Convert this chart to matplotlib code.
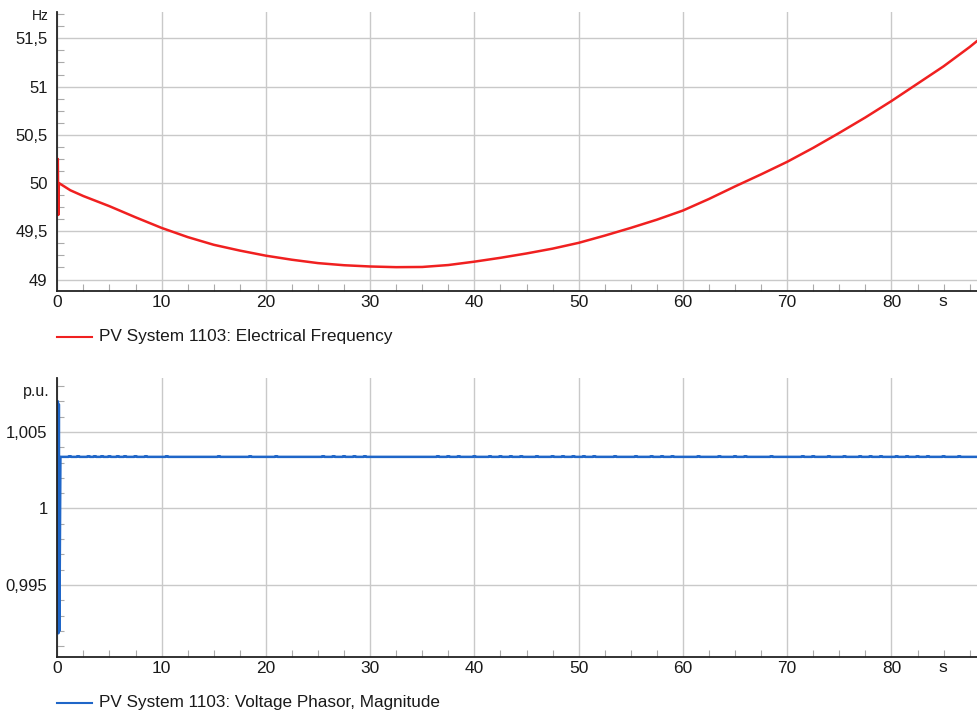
import matplotlib
matplotlib.use("Agg")
import matplotlib.pyplot as plt
from matplotlib.ticker import MultipleLocator, FuncFormatter

plt.rcParams['font.family'] = ['Liberation Sans', 'DejaVu Sans']

# ---- data ----
freq_t = [0.0, 0.05, 0.1, 0.15, 0.3, 1.25, 2.5, 5, 7.5, 10, 12.5, 15, 17.5, 20, 22.5, 25, 27.5,
          30, 32.5, 35, 37.5, 40, 42.5, 45, 47.5, 50, 52.5, 55, 57.5, 60, 62.5, 65, 67.5,
          70, 72.5, 75, 77.5, 80, 82.5, 85, 87.5, 88.3]
freq_v = [50.0, 50.25, 49.67, 50.0, 49.99, 49.925, 49.865, 49.76, 49.645, 49.535, 49.44, 49.36,
          49.30, 49.247, 49.205, 49.17, 49.148, 49.135, 49.128, 49.13, 49.15, 49.185,
          49.225, 49.27, 49.32, 49.38, 49.455, 49.535, 49.62, 49.715, 49.835, 49.965, 50.09,
          50.22, 50.365, 50.52, 50.68, 50.85, 51.03, 51.21, 51.41, 51.48]

volt_t = [0.0, 0.05, 0.1, 0.15, 0.2, 0.3]
volt_v = [1.0, 1.007, 0.99185, 1.0068, 0.992, 1.00337]
volt_steady = 1.00337
volt_blip = 1.00341
blip_times = [1.2, 2.0, 3.0, 3.6, 4.3, 5.0, 5.8, 6.5, 7.5, 8.5, 10.5, 15.5, 18.5, 21.0,
              25.5, 26.5, 27.5, 28.5, 29.5, 36.5, 37.5, 38.5, 40.0, 41.5, 42.5, 43.5,
              44.5, 46.0, 47.5, 48.5, 49.5, 50.5, 51.5, 53.5, 55.5, 57.0, 58.0, 59.0,
              61.5, 63.5, 65.0, 66.0, 68.5, 71.5, 72.5, 74.0, 75.5, 77.0, 78.0, 79.0,
              80.5, 81.5, 82.5, 83.5, 85.0, 86.5]
t_end = 88.3

freq_label = "PV System 1103: Electrical Frequency"
volt_label = "PV System 1103: Voltage Phasor, Magnitude"

# build voltage series from steady value with blips
vt = list(volt_t)
vv = list(volt_v)
for bt in blip_times:
    vt += [bt - 0.12, bt - 0.08, bt + 0.08, bt + 0.12]
    vv += [volt_steady, volt_blip, volt_blip, volt_steady]
vt.append(t_end)
vv.append(volt_steady)

W, H = 978, 715
fig = plt.figure(figsize=(W / 100, H / 100), dpi=100)

def px_axes(left, top, right, bottom):
    return fig.add_axes([left / W, 1 - bottom / H, (right - left) / W, (bottom - top) / H])

ax1 = px_axes(57.3, 11.7, 978, 290.7)
ax2 = px_axes(57.3, 378.3, 978, 656.7)

red = '#f02020'
blue = '#1f66c8'
grid_c = '#c9c9c9'
spine_c = '#222222'
txt_c = '#1a1a1a'
FS = 12.5

ax1.plot(freq_t, freq_v, color=red, lw=1.8, solid_joinstyle='round')
ax2.plot(vt, vv, color=blue, lw=1.8)

ax1.set_ylim(48.884, 51.776)
ax2.set_ylim(0.99032, 1.0085)

comma = FuncFormatter(lambda v, p: ('%g' % round(v, 6)).replace('.', ','))

for ax, major, minor in ((ax1, 0.5, 0.125), (ax2, 0.005, 0.001)):
    ax.set_xlim(0, t_end)
    ax.xaxis.set_major_locator(MultipleLocator(10))
    ax.xaxis.set_minor_locator(MultipleLocator(2.5))
    ax.yaxis.set_major_locator(MultipleLocator(major))
    ax.yaxis.set_minor_locator(MultipleLocator(minor))
    ax.yaxis.set_major_formatter(comma)
    ax.xaxis.set_major_formatter(FuncFormatter(lambda v, p: '' if v > 80.5 else '%d' % v))
    ax.grid(True, which='major', color=grid_c, lw=1.0)
    ax.set_axisbelow(True)
    for s in ('top', 'right'):
        ax.spines[s].set_visible(False)
    for s in ('left', 'bottom'):
        ax.spines[s].set_color(spine_c)
        ax.spines[s].set_linewidth(1.3)
    ax.tick_params(which='major', length=0, colors=txt_c)
    ax.tick_params(axis='y', which='major', pad=7, labelsize=12)
    ax.tick_params(axis='x', which='major', pad=3, labelsize=FS)
    ax.tick_params(which='minor', direction='in', length=5, color='#aaaaaa', width=0.8)

fig.text(943 / W, 1 - 301.5 / H, 's', ha='center', va='center', fontsize=FS, color=txt_c)
fig.text(943 / W, 1 - 667.5 / H, 's', ha='center', va='center', fontsize=FS, color=txt_c)

fig.text(48.5 / W, 1 - 15.7 / H, 'Hz', ha='right', va='center', fontsize=10, color=txt_c)
fig.text(49.3 / W, 1 - 391.7 / H, 'p.u.', ha='right', va='center', fontsize=11.5, color=txt_c)

# legends
fig.lines.append(plt.Line2D([57 / W, 92 / W], [1 - 336.7 / H, 1 - 336.7 / H],
                            transform=fig.transFigure, color=red, lw=1.5))
fig.text(99 / W, 1 - 336.7 / H, freq_label, ha='left', va='center', fontsize=12.4, color=txt_c)
fig.lines.append(plt.Line2D([57 / W, 92 / W], [1 - 702.7 / H, 1 - 702.7 / H],
                            transform=fig.transFigure, color=blue, lw=1.5))
fig.text(99 / W, 1 - 702.7 / H, volt_label, ha='left', va='center', fontsize=12.3, color=txt_c)

fig.savefig('out.png', dpi=100)
